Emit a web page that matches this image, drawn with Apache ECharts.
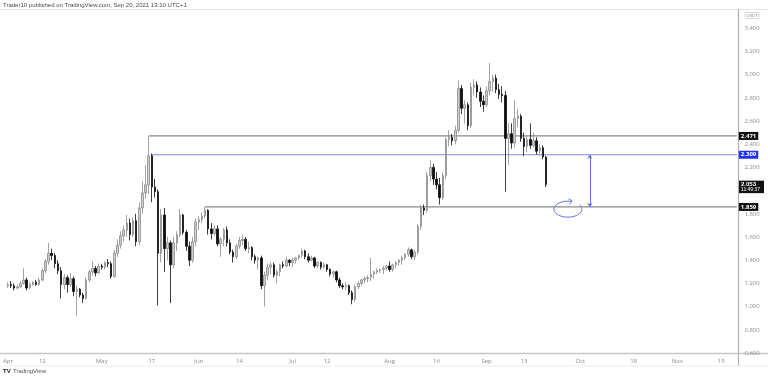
<!DOCTYPE html>
<html><head><meta charset="utf-8">
<script src="https://cdn.jsdelivr.net/npm/echarts@6/dist/echarts.min.js"></script>
<style>html,body{margin:0;padding:0;background:#fff}#c{width:768px;height:380px}</style>
</head><body><div id="c"></div>
<script>
// ---- Data (ADA/USDT daily, Apr 1 – Sep 20, 2021) ----
const opens = [1.18,1.19,1.18,1.16,1.17,1.20,1.23,1.16,1.19,1.21,1.19,1.23,1.31,1.39,1.46,1.44,1.37,1.31,1.19,1.25,1.19,1.24,1.13,1.15,1.10,1.07,1.23,1.30,1.33,1.29,
1.35,1.34,1.38,1.37,1.26,1.46,1.53,1.61,1.66,1.72,1.62,1.74,1.56,1.85,1.98,2.05,2.30,2.03,1.99,1.46,1.79,1.50,1.55,1.36,1.55,1.62,1.79,1.64,1.52,1.40,1.56,
1.73,1.75,1.78,1.83,1.67,1.63,1.67,1.54,1.58,1.66,1.55,1.47,1.43,1.52,1.57,1.58,1.50,1.51,1.43,1.40,1.42,1.18,1.27,1.34,1.36,1.27,1.30,1.36,1.35,1.40,
1.38,1.40,1.42,1.44,1.48,1.43,1.40,1.42,1.35,1.38,1.34,1.36,1.32,1.28,1.30,1.23,1.18,1.17,1.18,1.12,1.06,1.17,1.20,1.23,1.24,1.25,1.28,1.30,1.31,1.32,1.33,
1.35,1.32,1.36,1.38,1.40,1.42,1.45,1.49,1.43,1.47,1.69,1.85,1.83,2.13,2.20,2.10,2.05,1.94,2.13,2.44,2.46,2.43,2.52,2.88,2.71,2.74,2.56,2.89,2.91,2.85,2.77,
2.74,2.86,2.94,2.97,2.87,2.83,2.82,2.45,2.49,2.41,2.62,2.64,2.45,2.38,2.44,2.39,2.43,2.34,2.37,2.29];
const closes = [1.19,1.18,1.16,1.17,1.20,1.23,1.16,1.19,1.21,1.19,1.23,1.31,1.39,1.46,1.44,1.37,1.31,1.19,1.25,1.19,1.24,1.13,1.15,1.10,1.07,1.23,1.30,1.33,1.29,1.35,
1.34,1.38,1.37,1.26,1.46,1.53,1.61,1.66,1.72,1.62,1.74,1.56,1.85,1.98,2.05,2.30,2.03,1.99,1.46,1.79,1.50,1.55,1.36,1.55,1.62,1.79,1.64,1.52,1.40,1.56,1.73,
1.75,1.78,1.83,1.67,1.63,1.67,1.54,1.58,1.66,1.55,1.47,1.43,1.52,1.57,1.58,1.50,1.51,1.43,1.40,1.42,1.18,1.27,1.34,1.36,1.27,1.30,1.36,1.35,1.40,1.38,
1.40,1.42,1.44,1.48,1.43,1.40,1.42,1.35,1.38,1.34,1.36,1.32,1.28,1.30,1.23,1.18,1.17,1.18,1.12,1.06,1.17,1.20,1.23,1.24,1.25,1.28,1.30,1.31,1.32,1.33,1.35,
1.32,1.36,1.38,1.40,1.42,1.45,1.49,1.43,1.47,1.69,1.85,1.83,2.13,2.20,2.10,2.05,1.94,2.13,2.44,2.46,2.43,2.52,2.88,2.71,2.74,2.56,2.89,2.91,2.85,2.77,2.74,
2.86,2.94,2.97,2.87,2.83,2.82,2.45,2.49,2.41,2.62,2.64,2.45,2.38,2.44,2.39,2.43,2.34,2.37,2.29,2.053];
const lows = [1.16,1.16,1.14,1.15,1.16,1.19,1.14,1.15,1.18,1.18,1.18,1.22,1.29,1.36,1.40,1.33,1.28,1.07,1.15,1.12,1.17,1.09,0.92,1.08,1.03,1.06,1.21,1.27,1.26,1.28,
1.32,1.32,1.34,1.24,1.25,1.43,1.50,1.56,1.60,1.57,1.60,1.52,1.53,1.80,1.93,1.97,1.90,1.94,1.01,1.38,1.30,1.40,1.03,1.33,1.48,1.60,1.62,1.48,1.35,1.38,1.52,
1.66,1.72,1.76,1.62,1.58,1.61,1.52,1.43,1.52,1.52,1.45,1.38,1.41,1.50,1.53,1.48,1.46,1.40,1.37,1.32,1.15,1.00,1.23,1.28,1.25,1.20,1.26,1.33,1.34,1.35,
1.34,1.37,1.40,1.42,1.41,1.38,1.39,1.33,1.33,1.32,1.33,1.30,1.26,1.25,1.21,1.16,1.15,1.14,1.10,1.02,1.04,1.15,1.18,1.20,1.21,1.22,1.24,1.28,1.29,1.28,1.31,
1.30,1.30,1.33,1.35,1.36,1.40,1.43,1.41,1.40,1.45,1.66,1.79,1.81,2.08,2.05,2.01,1.88,1.92,2.10,2.38,2.39,2.40,2.50,2.66,2.58,2.52,2.54,2.82,2.80,2.72,2.68,
2.72,2.82,2.85,2.84,2.79,2.76,1.99,2.22,2.36,2.37,2.55,2.42,2.30,2.33,2.36,2.37,2.31,2.30,2.27,2.03];
const highs = [1.21,1.22,1.20,1.19,1.22,1.33,1.25,1.21,1.22,1.23,1.25,1.33,1.41,1.55,1.50,1.46,1.40,1.34,1.28,1.27,1.29,1.26,1.18,1.16,1.12,1.25,1.32,1.39,1.35,1.37,
1.37,1.39,1.41,1.39,1.49,1.58,1.65,1.70,1.79,1.76,1.77,1.80,1.90,2.08,2.22,2.471,2.32,2.10,2.01,1.84,1.85,1.60,1.57,1.60,1.65,1.84,1.80,1.66,1.56,1.60,1.76,
1.78,1.81,1.859,1.84,1.72,1.70,1.70,1.60,1.68,1.69,1.58,1.49,1.54,1.60,1.62,1.60,1.56,1.52,1.45,1.43,1.44,1.30,1.37,1.38,1.38,1.32,1.37,1.39,1.43,1.41,
1.42,1.43,1.45,1.50,1.49,1.46,1.44,1.43,1.39,1.39,1.38,1.37,1.33,1.31,1.31,1.25,1.20,1.21,1.19,1.14,1.19,1.22,1.24,1.26,1.27,1.42,1.31,1.33,1.33,1.35,1.36,
1.39,1.37,1.39,1.41,1.44,1.46,1.51,1.50,1.49,1.71,1.88,1.88,2.16,2.26,2.23,2.16,2.11,2.16,2.46,2.52,2.49,2.56,2.95,2.91,2.78,2.76,2.93,2.96,2.94,2.89,2.82,
2.90,3.10,3.00,3.00,2.92,2.90,2.86,2.58,2.58,2.78,2.70,2.66,2.50,2.47,2.58,2.50,2.46,2.40,2.39,2.30];

const startDay = [2021, 3, 1];   // Apr 1, 2021 (UTC)
const dayCount = 234;            // Apr 1 .. Nov 20
const tickDates  = ['2021-04-01','2021-04-12','2021-05-01','2021-05-17','2021-06-01','2021-06-14','2021-07-01','2021-07-12',
                    '2021-08-01','2021-08-16','2021-09-01','2021-09-13','2021-10-01','2021-10-18','2021-11-01','2021-11-15'];
const tickLabels = ['Apr','12','May','17','Jun','14','Jul','12','Aug','16','Sep','13','Oct','18','Nov','15'];
const priceMin = 0.6, priceMax = 3.6, priceStep = 0.2;

const resistance = {value: 2.471, from: '2021-05-16'};
const breakLevel = {value: 2.309, from: '2021-05-17'};
const support    = {value: 1.859, from: '2021-06-03'};
const targetArrow = {date: '2021-10-04', top: 2.309, bottom: 1.859};
const loopMark = {date: '2021-09-27', value: 1.84};
const lastTime = '11:49:37';

// ---- Build ----
const cats = [];
const t0 = Date.UTC(startDay[0], startDay[1], startDay[2]);
for (let k = 0; k < dayCount; k++) cats.push(new Date(t0 + k * 86400000).toISOString().slice(0, 10));
const candles = opens.map((o, k) => [o, closes[k], lows[k], highs[k]]);
const tickMap = {}; tickDates.forEach((d, k) => tickMap[d] = tickLabels[k]);
const lastCat = cats[cats.length - 1];
const lastClose = closes[closes.length - 1];

const chart = echarts.init(document.getElementById('c'), null, {renderer: 'canvas'});
const FONT = 'Open Sans, Noto Sans, sans-serif';

function levelSeries(lv, color, bg, width) {
  return {
    type: 'line', data: [[lv.from, lv.value], [lastCat, lv.value]],
    showSymbol: false, symbol: 'none', silent: true, z: 3,
    lineStyle: {color: color, width: width, type: 'solid'},
    itemStyle: {color: color},
    endLabel: {show: true, distance: 2, formatter: () => lv.value.toFixed(3), color: '#fff',
               backgroundColor: bg, padding: [1, 2, 1, 2], fontSize: 6, fontWeight: 'bold', fontFamily: FONT}
  };
}

chart.setOption({
  animation: false,
  backgroundColor: '#ffffff',
  grid: {left: 0.8, right: 29.6, top: 5, bottom: 27, containLabel: false},
  xAxis: {
    type: 'category', data: cats, boundaryGap: true,
    axisLine: {show: false}, axisTick: {show: false}, splitLine: {show: false},
    axisLabel: {
      interval: (idx, val) => tickMap[val] !== undefined,
      formatter: val => tickMap[val] || '',
      fontSize: 6, color: '#8a8a8a', margin: 5, fontFamily: FONT, hideOverlap: false
    }
  },
  yAxis: {
    type: 'value', position: 'right', min: priceMin, max: priceMax, interval: priceStep, scale: false,
    axisLine: {show: false}, axisTick: {show: false}, splitLine: {show: false},
    axisLabel: {
      showMaxLabel: false, margin: 6, fontSize: 6, color: '#8a8a8a', fontFamily: FONT,
      formatter: v => (Math.abs(v - 2.0) < 1e-6 ? '' : v.toFixed(3))
    }
  },
  series: [{
    type: 'candlestick', data: candles, barWidth: 2, z: 4,
    itemStyle: {color: '#cfcfcf', color0: '#0d0d0d', borderColor: '#8a8a8a', borderColor0: '#0d0d0d', borderWidth: 0.8},
    markLine: {
      silent: true, symbol: ['arrow', 'arrow'], symbolSize: [4, 4], animation: false,
      lineStyle: {color: '#6472e2', width: 1, type: 'solid'}, label: {show: false},
      data: [
        [{coord: [targetArrow.date, targetArrow.top]}, {coord: [targetArrow.date, targetArrow.bottom]}]
      ]
    }
  },
  levelSeries(resistance, '#8a8a8a', '#111111', 1.3),
  levelSeries(breakLevel, '#7d88e8', '#2233ee', 1),
  levelSeries(support, '#8a8a8a', '#111111', 1.3)
  ]
});

// ---- annotations placed through the chart's own scales ----
const yLast = chart.convertToPixel({yAxisIndex: 0}, lastClose);
const loopC = chart.convertToPixel({seriesIndex: 0}, [loopMark.date, loopMark.value]);
const rx = 14, ry = 8;
const pts = [];
for (let a = -75; a >= -400; a -= 8) {
  const t = a * Math.PI / 180;
  pts.push([loopC[0] + rx * Math.cos(t), loopC[1] + ry * Math.sin(t)]);
}
const tip = pts[0];
const W = 768, H = 380;
const gridRight = 738;

chart.setOption({
  graphic: [
    {type: 'text', left: 3, top: 2, style: {text: 'Trader10 published on TradingView.com, Sep 20, 2021 13:10 UTC+1', fontSize: 6, fill: '#4a4a4a', font: '6px ' + FONT}},
    {type: 'line', shape: {x1: 0, y1: 9.5, x2: W, y2: 9.5}, style: {stroke: '#e6e6e6', lineWidth: 1}},
    {type: 'line', shape: {x1: gridRight + 0.5, y1: 9.5, x2: gridRight + 0.5, y2: 366}, style: {stroke: '#b0b0b0', lineWidth: 1.2}},
    {type: 'line', shape: {x1: 0, y1: 353.5, x2: W, y2: 353.5}, style: {stroke: '#c6c6c6', lineWidth: 1.6}},
    {type: 'line', shape: {x1: 0, y1: 366, x2: W, y2: 366}, style: {stroke: '#ececec', lineWidth: 1}},
    {type: 'rect', shape: {x: 745, y: 12.5, width: 14, height: 6, r: 1}, style: {fill: '#fff', stroke: '#cfcfcf', lineWidth: 0.8}},
    {type: 'text', x: 752, y: 15.5, style: {text: 'USDT', fontSize: 4, fill: '#888', align: 'center', verticalAlign: 'middle'}},
    {type: 'rect', z: 100, shape: {x: 739, y: yLast - 3.8, width: 25, height: 12.5}, style: {fill: '#111111'}},
    {type: 'text', z: 101, x: 741, y: yLast, style: {text: lastClose.toFixed(3), fontSize: 6, fontWeight: 'bold', fill: '#fff', verticalAlign: 'middle', font: 'bold 6px ' + FONT}},
    {type: 'text', z: 101, x: 741, y: yLast + 5.5, style: {text: lastTime, fontSize: 5, fill: '#fff', verticalAlign: 'middle', font: '5px ' + FONT}},
    {type: 'polyline', shape: {points: pts, smooth: 0.3}, style: {stroke: '#6472e2', lineWidth: 1, fill: null}},
    {type: 'polyline', shape: {points: [[tip[0] - 3, tip[1] - 2.5], [tip[0] + 0.5, tip[1] - 0.5], [tip[0] - 2, tip[1] + 3]]}, style: {stroke: '#6472e2', lineWidth: 1, fill: null}},
    {type: 'text', left: 3, top: 368, style: {text: 'TV', fontSize: 6, fontWeight: 'bold', fill: '#131722', font: 'bold 6px ' + FONT}},
    {type: 'text', left: 13, top: 368.5, style: {text: 'TradingView', fontSize: 6, fill: '#555', font: '6px ' + FONT}}
  ]
});
</script>
</body></html>
